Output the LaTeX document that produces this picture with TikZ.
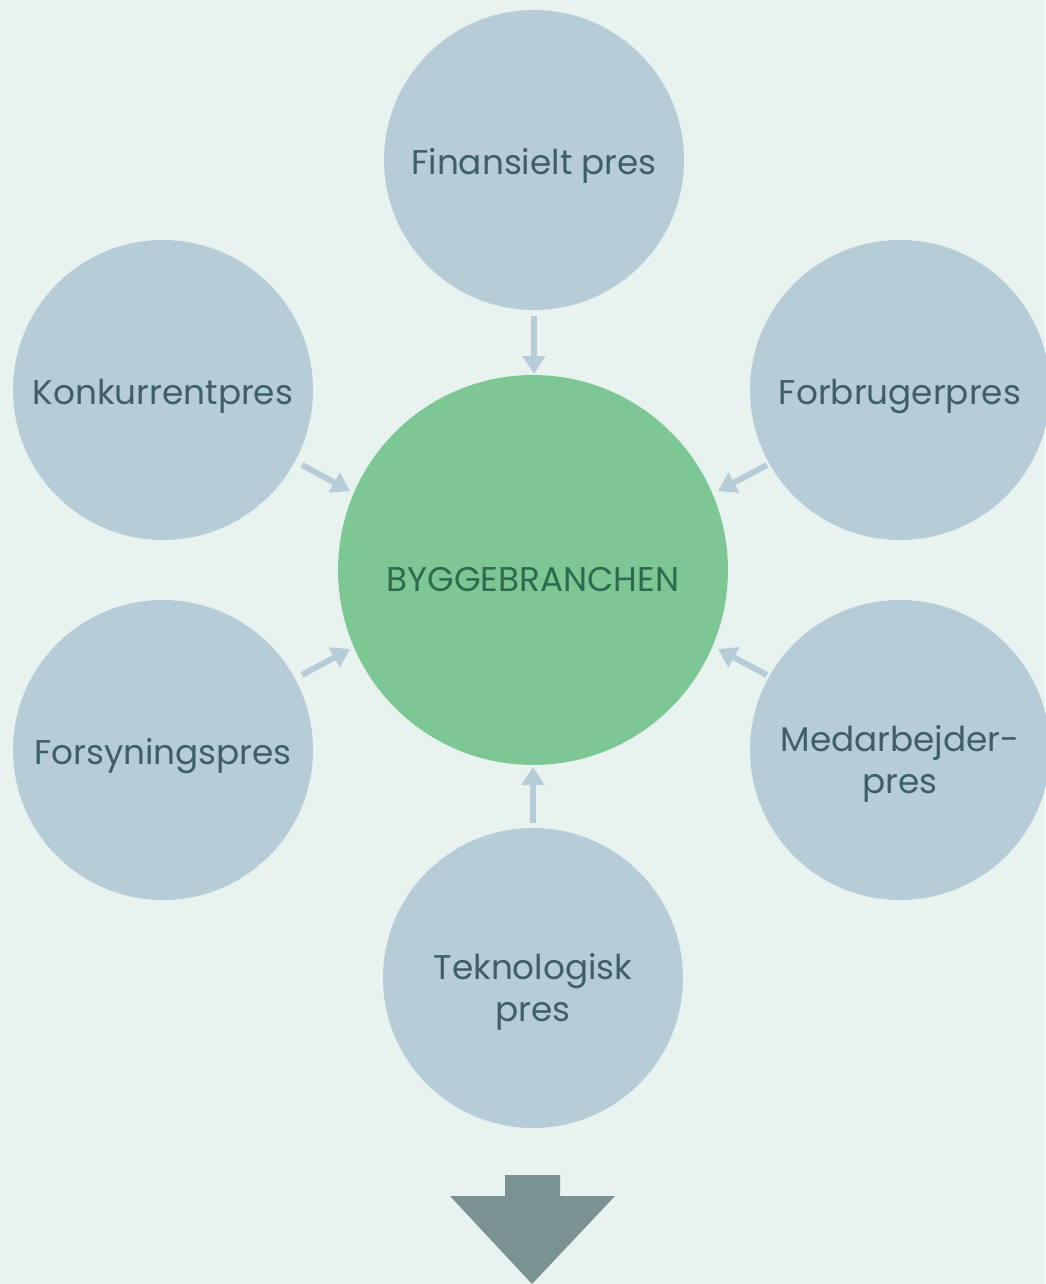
\documentclass[tikz,border=0pt]{standalone}
\usepackage{fontspec}
\setmainfont{Poppins}
\usetikzlibrary{arrows.meta}
\definecolor{bg}{HTML}{E8F2EF}
\definecolor{circ}{HTML}{B6CDD8}
\definecolor{hub}{HTML}{7DC795}
\definecolor{txt}{HTML}{3E5E68}
\definecolor{hubtxt}{HTML}{2E6A4E}
\definecolor{big}{HTML}{7A9392}
\tikzset{
  px/.style={x=0.02cm,y=-0.02cm},
  force/.style={circle,fill=circ,minimum size=6cm,inner sep=0pt},
  hubnode/.style={circle,fill=hub,minimum size=7.8cm,inner sep=0pt},
  lbl/.style={text=txt,font=\fontsize{19.5}{23.8}\selectfont,align=center,inner sep=0pt},
  hublbl/.style={text=hubtxt,font=\fontsize{19.5}{23.8}\selectfont,inner sep=0pt},
  link/.style={draw=circ,line width=0.12cm,-{Triangle[width=0.44cm,length=0.36cm]}}
}
\begin{document}
\begin{tikzpicture}[px]
\fill[bg] (0,0) rectangle (1045,1284);
\useasboundingbox (0,0) rectangle (1045,1284);
\node[hubnode] (hub) at (533,570) {};
\node[force] (fin) at (534,160) {};
\node[force] (kon) at (163,390) {};
\node[force] (forb) at (900,390) {};
\node[force] (fors) at (163,750) {};
\node[force] (med) at (900,750) {};
\node[force] (tek) at (533,978) {};
\node[hublbl] (hubt) at ([yshift=-0.2cm]hub.center) {BYGGEBRANCHEN};
\node[lbl] (fint) at ([yshift=-0.12cm]fin.center) {Finansielt pres};
\node[lbl] (kont) at ([yshift=-0.12cm]kon.center) {Konkurrentpres};
\node[lbl] (forbt) at ([yshift=-0.12cm]forb.center) {Forbrugerpres};
\node[lbl] (forst) at ([yshift=-0.12cm]fors.center) {Forsyningspres};
\node[lbl] (medt) at ([yshift=-0.28cm]med.center) {Medarbejder-\\pres};
\node[lbl] (tekt) at ([yshift=-0.28cm]tek.center) {Teknologisk\\pres};
\coordinate (a1) at (534,316);
\coordinate (b1) at (534,374);
\coordinate (a2) at (302,465);
\coordinate (b2) at (350,491);
\coordinate (a3) at (767,465);
\coordinate (b3) at (718,491);
\coordinate (a4) at (302,675);
\coordinate (b4) at (350,649);
\coordinate (a5) at (767,675);
\coordinate (b5) at (718,649);
\coordinate (a6) at (533,823);
\coordinate (b6) at (533,767);
\draw[link] (a1) -- (b1);
\draw[link] (a2) -- (b2);
\draw[link] (a3) -- (b3);
\draw[link] (a4) -- (b4);
\draw[link] (a5) -- (b5);
\draw[link] (a6) -- (b6);
\fill[big] (505,1175) -- (560,1175) -- (560,1196) -- (615,1196) -- (532,1284) -- (450,1196) -- (505,1196) -- cycle;
\end{tikzpicture}
\end{document}
